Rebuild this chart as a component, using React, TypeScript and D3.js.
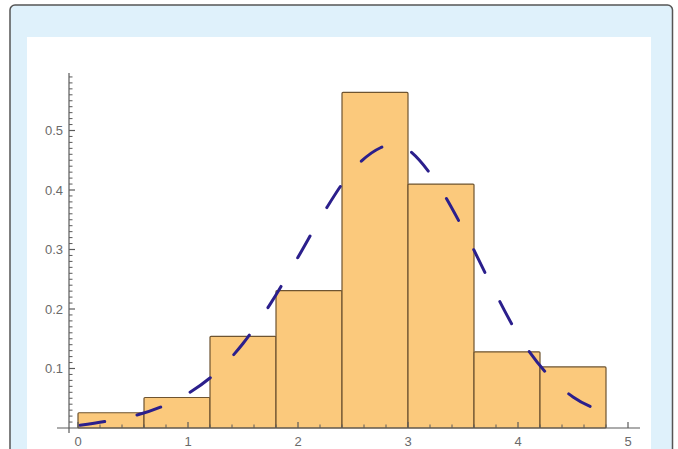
import React from "react";
import * as d3 from "d3";

// Histogram bins (density scale) and fitted density curve
const binEdges = [0, 0.6, 1.2, 1.8, 2.4, 3.0, 3.6, 4.2, 4.8];
const binDensity = [0.0256, 0.0513, 0.154, 0.231, 0.564, 0.41, 0.128, 0.1026];

const curveX = [0, 0.25, 0.5, 0.75, 1.0, 1.25, 1.5, 1.75, 2.0, 2.25, 2.5, 2.75, 2.9, 3.0, 3.25, 3.5, 3.75, 4.0, 4.25, 4.5, 4.75];
const curveY = [0.004, 0.011, 0.02, 0.035, 0.058, 0.092, 0.142, 0.209, 0.287, 0.367, 0.434, 0.471, 0.478, 0.468, 0.415, 0.335, 0.243, 0.157, 0.094, 0.052, 0.029];

const xTicks = [0, 1, 2, 3, 4, 5];
const yTicks = [0.1, 0.2, 0.3, 0.4, 0.5];

const W = 678;
const H = 449;

export default function App() {
  const x = d3.scaleLinear().domain([0, 5]).range([78, 628]);
  const y = d3.scaleLinear().domain([0, 0.5]).range([428, 130.5]);

  const xMinor = d3.range(-0.4, 5.01, 0.2).map((v) => Math.round(v * 10) / 10).filter((v) => x(v) > 57 && !xTicks.includes(v));
  const yMinor = d3.range(0.01, 0.595, 0.01).map((v) => Math.round(v * 100) / 100).filter((v) => !yTicks.some((t) => Math.abs(t - v) < 1e-9));

  const line = d3
    .line<number>()
    .x((_, i) => x(curveX[i]))
    .y((d) => y(d))
    .curve(d3.curveMonotoneX);

  const axisColor = "#5a5a5a";
  const labelColor = "#6a6a6a";
  const y0 = y(0);
  const axisX = 69;

  return (
    <svg
      width={W}
      height={H}
      style={{ position: "absolute", left: 0, top: 0, display: "block" }}
      fontFamily="'Liberation Sans', Arial, sans-serif"
    >
      <rect x={0} y={0} width={W} height={H} fill="#ffffff" />
      <rect x={10} y={5} width={662.5} height={470} rx={5} fill="#dff1fb" stroke="#555" strokeWidth={1.5} />
      <rect x={27} y={37} width={624} height={420} fill="#ffffff" />

      {/* bars */}
      {binDensity.map((d, i) => (
        <rect
          key={i}
          x={x(binEdges[i])}
          y={y(d)}
          width={x(binEdges[i + 1]) - x(binEdges[i])}
          height={y0 - y(d)}
          fill="#fbc97c"
          stroke="#6e5430"
          strokeWidth={1.2}
          rx={1}
        />
      ))}

      {/* density curve */}
      <path
        d={line(curveY) || ""}
        fill="none"
        stroke="#2b1f8c"
        strokeWidth={3}
        strokeDasharray="25 33"
        strokeDashoffset={-2}
        strokeLinecap="round"
      />

      {/* x axis */}
      <line x1={57} x2={640} y1={y0} y2={y0} stroke={axisColor} strokeWidth={1.2} />
      {xTicks.map((t) => (
        <g key={t}>
          <line x1={x(t)} x2={x(t)} y1={y0} y2={y0 - 6} stroke={axisColor} strokeWidth={1.2} />
          <text x={x(t)} y={446} textAnchor="middle" fontSize={13} fill={labelColor}>
            {t}
          </text>
        </g>
      ))}
      {xMinor.map((t) => (
        <line key={t} x1={x(t)} x2={x(t)} y1={y0} y2={y0 - 3.5} stroke={axisColor} strokeWidth={1} />
      ))}

      {/* y axis */}
      <line x1={axisX} x2={axisX} y1={73} y2={433} stroke={axisColor} strokeWidth={1.2} />
      {yTicks.map((t) => (
        <g key={t}>
          <line x1={axisX} x2={axisX + 6} y1={y(t)} y2={y(t)} stroke={axisColor} strokeWidth={1.2} />
          <text x={63} y={y(t) + 4.5} textAnchor="end" fontSize={13} fill={labelColor}>
            {t.toFixed(1)}
          </text>
        </g>
      ))}
      {yMinor.map((t) => (
        <line key={t} x1={axisX} x2={axisX + 3.5} y1={y(t)} y2={y(t)} stroke={axisColor} strokeWidth={1} />
      ))}
    </svg>
  );
}
